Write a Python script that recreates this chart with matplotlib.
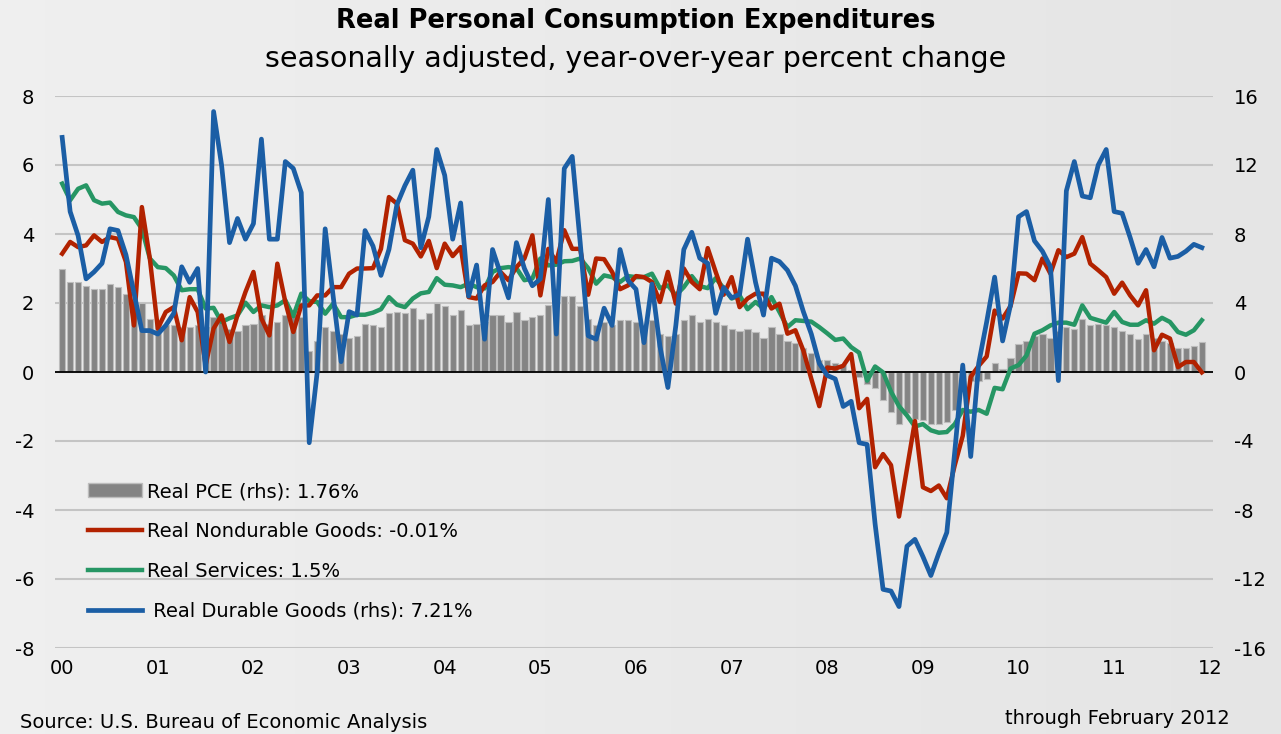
import matplotlib
matplotlib.use('Agg')
import matplotlib.pyplot as plt
from matplotlib.patches import Patch
from matplotlib.lines import Line2D
import numpy as np
import pandas as pd

# Monthly observations, Jan 2000 - Dec 2011
months = pd.date_range('2000-01-01', periods=144, freq='MS')
year_labels = ['00', '01', '02', '03', '04', '05', '06', '07', '08', '09', '10', '11', '12']

# Real PCE, y/y % (right axis)
pce = [6.0, 5.2, 5.2, 5.0, 4.8, 4.8, 5.1, 4.9, 4.5, 4.1,
       4.0, 3.1, 2.9, 2.7, 2.7, 2.6, 2.6, 2.7, 2.6, 3.2,
       2.9, 2.5, 2.4, 2.7, 2.8, 3.3, 2.8, 2.9, 3.3, 3.3,
       3.2, 1.2, 1.8, 2.6, 2.4, 2.2, 2.0, 2.1, 2.8, 2.7,
       2.6, 3.4, 3.5, 3.4, 3.7, 3.1, 3.4, 4.0, 3.8, 3.3,
       3.6, 2.7, 2.8, 2.9, 3.3, 3.3, 2.9, 3.5, 3.0, 3.2,
       3.3, 3.9, 4.1, 4.4, 4.4, 3.8, 3.1, 2.7, 2.9, 2.7,
       3.0, 3.0, 2.9, 2.6, 3.0, 2.2, 2.1, 2.2, 3.0, 3.3,
       2.9, 3.1, 2.9, 2.7, 2.5, 2.4, 2.5, 2.3, 2.0, 2.6,
       2.2, 1.8, 1.7, 1.4, 1.1, 0.7, 0.7, 0.5, 0.4, 0.1,
       -0.3, -0.7, -0.9, -1.6, -2.3, -3.0, -2.4, -2.7, -2.8, -3.0,
       -3.0, -2.9, -2.2, -1.1, -0.5, -0.5, -0.4, 0.5, 0.2, 0.8,
       1.6, 1.8, 2.1, 2.2, 2.0, 2.4, 2.6, 2.5, 3.1, 2.7,
       2.8, 2.7, 2.6, 2.4, 2.2, 1.9, 2.2, 2.0, 1.8, 1.7,
       1.4, 1.4, 1.5, 1.76]

# Real durable goods, y/y % (right axis)
durable = [13.6, 9.3, 7.9, 5.4, 5.8, 6.3, 8.3, 8.2, 6.8, 4.6,
           2.4, 2.4, 2.2, 2.7, 3.4, 6.1, 5.2, 6.0, 0.0, 15.1,
           12.0, 7.5, 8.9, 7.7, 8.6, 13.5, 7.7, 7.7, 12.2, 11.8,
           10.4, -4.1, 0.0, 8.3, 4.4, 0.6, 3.5, 3.3, 8.2, 7.3,
           5.6, 7.1, 9.7, 10.8, 11.7, 7.2, 9.0, 12.9, 11.4, 7.7,
           9.8, 4.4, 6.2, 1.9, 7.1, 5.7, 4.3, 7.5, 6.0, 5.0,
           5.4, 10.0, 2.2, 11.8, 12.5, 7.5, 2.1, 1.9, 3.7, 2.7,
           7.1, 5.3, 4.8, 1.7, 5.1, 1.5, -0.9, 2.7, 7.1, 8.1,
           6.6, 6.3, 3.4, 4.9, 4.3, 4.5, 7.7, 5.2, 3.3, 6.6,
           6.4, 5.9, 5.0, 3.5, 2.2, 0.5, -0.2, -0.4, -2.0, -1.7,
           -4.1, -4.2, -8.8, -12.6, -12.7, -13.6, -10.1, -9.7, -10.7, -11.8,
           -10.5, -9.3, -4.6, 0.4, -4.9, 0.5, 2.9, 5.5, 1.8, 3.9,
           9.0, 9.3, 7.6, 7.0, 6.1, -0.5, 10.5, 12.2, 10.2, 10.1,
           12.0, 12.9, 9.3, 9.2, 7.8, 6.3, 7.1, 6.1, 7.8, 6.6,
           6.7, 7.0, 7.4, 7.21]

# Real nondurable goods, y/y % (left axis)
nondurable = [3.43, 3.77, 3.62, 3.67, 3.96, 3.77, 3.91, 3.86, 3.19, 1.35,
              4.78, 3.29, 1.26, 1.74, 1.88, 0.92, 2.17, 1.74, 0.2, 1.26,
              1.64, 0.87, 1.65, 2.32, 2.90, 1.55, 1.06, 3.14, 2.03, 1.16,
              1.93, 1.93, 2.22, 2.22, 2.46, 2.46, 2.85, 3.0, 3.0, 3.01,
              3.57, 5.07, 4.88, 3.82, 3.72, 3.35, 3.8, 3.01, 3.72, 3.36,
              3.62, 2.17, 2.13, 2.51, 2.61, 2.90, 2.66, 3.04, 3.29, 3.96,
              2.22, 3.57, 3.19, 4.11, 3.57, 3.57, 2.24, 3.29, 3.27, 2.90,
              2.40, 2.51, 2.78, 2.75, 2.61, 2.03, 2.90, 1.98, 3.0, 2.61,
              2.40, 3.59, 2.90, 2.24, 2.75, 1.88, 2.13, 2.27, 2.27, 1.84,
              1.98, 1.11, 1.21, 0.62, -0.2, -0.99, 0.13, 0.10, 0.18, 0.52,
              -1.05, -0.78, -2.76, -2.38, -2.70, -4.19, -2.8, -1.42, -3.34, -3.45,
              -3.29, -3.66, -2.70, -1.85, -0.14, 0.18, 0.45, 1.78, 1.55, 1.91,
              2.86, 2.85, 2.66, 3.29, 2.85, 3.53, 3.33, 3.43, 3.91, 3.14,
              2.95, 2.75, 2.27, 2.59, 2.22, 1.93, 2.37, 0.63, 1.08, 0.97,
              0.14, 0.29, 0.29, -0.01]

# Real services, y/y % (left axis)
services = [5.46, 4.98, 5.31, 5.41, 4.98, 4.88, 4.91, 4.64, 4.54, 4.49,
            4.15, 3.29, 3.04, 3.01, 2.80, 2.37, 2.40, 2.40, 1.84, 1.86,
            1.45, 1.56, 1.64, 2.01, 1.74, 1.93, 1.88, 1.93, 2.08, 1.62,
            2.27, 2.05, 2.03, 1.69, 1.98, 1.59, 1.59, 1.66, 1.66, 1.72,
            1.82, 2.17, 1.95, 1.88, 2.13, 2.28, 2.32, 2.72, 2.53, 2.51,
            2.46, 2.56, 2.46, 2.42, 2.90, 3.01, 3.04, 3.01, 2.66, 2.71,
            3.29, 3.09, 3.11, 3.21, 3.22, 3.29, 3.01, 2.56, 2.80, 2.75,
            2.61, 2.78, 2.75, 2.75, 2.85, 2.43, 2.51, 2.22, 2.46, 2.78,
            2.49, 2.43, 2.72, 2.43, 2.13, 2.22, 1.82, 2.03, 1.84, 2.17,
            1.74, 1.30, 1.50, 1.48, 1.46, 1.30, 1.12, 0.93, 0.97, 0.72,
            0.56, -0.25, 0.16, -0.01, -0.57, -0.99, -1.26, -1.58, -1.51, -1.69,
            -1.76, -1.74, -1.51, -1.10, -1.15, -1.1, -1.21, -0.46, -0.5, 0.1,
            0.2, 0.48, 1.11, 1.21, 1.35, 1.43, 1.43, 1.37, 1.93, 1.57,
            1.50, 1.43, 1.74, 1.45, 1.37, 1.37, 1.50, 1.40, 1.57, 1.45,
            1.16, 1.08, 1.21, 1.5]

red = '#b22200'
green = '#269664'
blue = '#1b5ea5'
bar_grey = '#848484'

plt.rcParams['font.family'] = 'DejaVu Sans'
plt.rcParams['axes.unicode_minus'] = False

fig = plt.figure(figsize=(12.81, 7.34), dpi=100, facecolor='#eaeaea')

# soft left-to-right background shading
bg = fig.add_axes([0, 0, 1, 1], zorder=-5)
bg.imshow(np.linspace(0.935, 0.895, 256).reshape(1, -1), cmap='gray', vmin=0, vmax=1,
          aspect='auto', extent=[0, 1, 0, 1])
bg.axis('off')

rect = [55 / 1281, 1 - 648 / 734, (1213 - 55) / 1281, (648 - 96) / 734]
x = np.arange(len(months))

# bottom layer: bars on the right-hand scale, gridlines
axb = fig.add_axes(rect, zorder=1)
axb.patch.set_visible(False)
axb.bar(x, pce, width=0.78, color=bar_grey, edgecolor='#bdbdbd', linewidth=0.8)
axb.set_ylim(-16, 16)
axb.set_yticks(range(-16, 17, 4))
axb.yaxis.tick_right()
axb.yaxis.grid(True, color='#c4c4c4', linewidth=1.5)
axb.set_axisbelow(True)
axb.tick_params(axis='y', length=0, pad=15, labelsize=14)
axb.tick_params(axis='x', length=0, pad=8, labelsize=14)
axb.set_xticks(np.arange(0, 145, 12))
axb.set_xticklabels(year_labels)
for s in axb.spines.values():
    s.set_visible(False)

# middle layer: left-hand scale lines
ax = fig.add_axes(rect, zorder=2, sharex=axb)
ax.patch.set_visible(False)
ax.axhline(0, color='black', linewidth=1.3, zorder=1)
ax.plot(x, services, color=green, linewidth=3.2, solid_joinstyle='round', zorder=2)
ax.plot(x, nondurable, color=red, linewidth=3.2, solid_joinstyle='round', zorder=3)
ax.set_ylim(-8, 8)
ax.set_yticks(range(-8, 9, 2))
ax.tick_params(axis='y', length=0, pad=15, labelsize=14)
ax.tick_params(axis='x', bottom=False, labelbottom=False)
for s in ax.spines.values():
    s.set_visible(False)

# top layer: durable goods on the right-hand scale
axd = fig.add_axes(rect, zorder=3, sharex=axb)
axd.patch.set_visible(False)
axd.plot(x, durable, color=blue, linewidth=3.4, solid_joinstyle='round')
axd.set_ylim(-16, 16)
axd.set_xlim(-0.9, 144.4)
axd.axis('off')

handles = [Patch(facecolor=bar_grey, edgecolor='#bdbdbd'),
           Line2D([], [], color=red, linewidth=3.2),
           Line2D([], [], color=green, linewidth=3.2),
           Line2D([], [], color=blue, linewidth=3.4)]
labels = [f'Real PCE (rhs): {pce[-1]:g}%',
          f'Real Nondurable Goods: {nondurable[-1]:g}%',
          f'Real Services: {services[-1]:g}%',
          f' Real Durable Goods (rhs): {durable[-1]:g}%']
fig.legend(handles, labels, loc='upper left', bbox_to_anchor=(88 / 1281, 1 - 482 / 734),
           frameon=False, fontsize=14, borderpad=0, borderaxespad=0,
           handlelength=2.8, handletextpad=0.25, labelspacing=1.07)

fig.text(0.496, 1 - 21 / 734, 'Real Personal Consumption Expenditures',
         ha='center', va='center', fontsize=18.5, fontweight='bold')
fig.text(0.496, 1 - 59 / 734, 'seasonally adjusted, year-over-year percent change',
         ha='center', va='center', fontsize=20.5)
fig.text(20 / 1281, 2 / 734, 'Source: U.S. Bureau of Economic Analysis',
         ha='left', va='bottom', fontsize=14)
fig.text(1230 / 1281, 1 - 719 / 734, 'through February 2012',
         ha='right', va='center', fontsize=14)

fig.savefig('out.png', dpi=100, facecolor=fig.get_facecolor())
